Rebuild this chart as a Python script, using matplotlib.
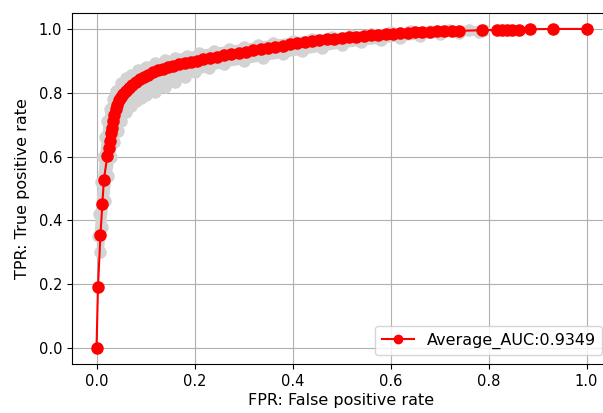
import matplotlib
matplotlib.use('Agg')
import matplotlib.pyplot as plt

# mean ROC curve (red dots)
mean_fpr = [0.0, 0.003, 0.008, 0.012, 0.015, 0.022, 0.025, 0.027, 0.029, 0.031,
            0.033, 0.036, 0.039, 0.042, 0.046, 0.05, 0.055, 0.06, 0.066, 0.072,
            0.08, 0.088, 0.096, 0.105, 0.115, 0.125, 0.135, 0.145, 0.156, 0.168,
            0.18, 0.192, 0.205, 0.218, 0.232, 0.246, 0.26, 0.275, 0.29, 0.305,
            0.32, 0.335, 0.35, 0.365, 0.38, 0.395, 0.41, 0.425, 0.44, 0.455,
            0.47, 0.485, 0.5, 0.515, 0.53, 0.545, 0.56, 0.575, 0.59, 0.605,
            0.62, 0.635, 0.65, 0.665, 0.68, 0.695, 0.71, 0.725, 0.74, 0.787,
            0.818, 0.828, 0.838, 0.848, 0.862, 0.884, 0.931, 1.0]
mean_tpr = [0.0, 0.19, 0.355, 0.452, 0.527, 0.601, 0.628, 0.648, 0.675, 0.69,
            0.712, 0.73, 0.748, 0.762, 0.776, 0.787, 0.797, 0.807, 0.816, 0.825,
            0.834, 0.843, 0.85, 0.857, 0.864, 0.87, 0.875, 0.88, 0.885, 0.889,
            0.893, 0.897, 0.901, 0.905, 0.909, 0.913, 0.917, 0.921, 0.925, 0.929,
            0.933, 0.937, 0.94, 0.944, 0.948, 0.952, 0.955, 0.958, 0.961, 0.964,
            0.967, 0.969, 0.972, 0.974, 0.976, 0.978, 0.98, 0.982, 0.984, 0.985,
            0.987, 0.988, 0.989, 0.99, 0.991, 0.992, 0.992, 0.993, 0.994, 0.996,
            0.997, 0.997, 0.998, 0.998, 0.998, 0.999, 1.0, 1.0]

# spread of the folds (grey)
upper_fpr = [0.003, 0.006, 0.01, 0.014, 0.018, 0.022, 0.027, 0.033, 0.04, 0.05,
             0.06, 0.07, 0.085, 0.1, 0.12, 0.14, 0.16, 0.185, 0.21, 0.24,
             0.27, 0.3, 0.33, 0.36, 0.4, 0.44, 0.48, 0.52, 0.56, 0.6,
             0.64, 0.68, 0.72, 0.76, 0.79]
upper_tpr = [0.35, 0.42, 0.52, 0.6, 0.66, 0.71, 0.75, 0.78, 0.805, 0.83,
             0.845, 0.857, 0.87, 0.881, 0.893, 0.902, 0.909, 0.916, 0.923, 0.93,
             0.936, 0.942, 0.949, 0.955, 0.962, 0.969, 0.975, 0.98, 0.985, 0.989,
             0.992, 0.994, 0.996, 0.997, 0.998]
lower_fpr = [0.008, 0.012, 0.018, 0.024, 0.03, 0.036, 0.043, 0.05, 0.06, 0.07,
             0.08, 0.09, 0.1, 0.12, 0.14, 0.16, 0.18, 0.2, 0.23, 0.26,
             0.3, 0.34, 0.38, 0.42, 0.46, 0.5, 0.54, 0.58, 0.62, 0.66,
             0.7, 0.74, 0.78]
lower_tpr = [0.3, 0.38, 0.46, 0.54, 0.6, 0.645, 0.68, 0.71, 0.74, 0.76,
             0.775, 0.785, 0.792, 0.802, 0.817, 0.835, 0.85, 0.864, 0.878, 0.89,
             0.9, 0.91, 0.92, 0.93, 0.94, 0.95, 0.958, 0.965, 0.972, 0.978,
             0.983, 0.987, 0.99]

auc_label = 'Average_AUC:0.9349'

fig = plt.figure(figsize=(6.03, 4.13), dpi=100)
ax = fig.add_axes([0.1194, 0.1186, 0.894, 0.85])

grey = '#d3d3d3'
ax.fill(upper_fpr + lower_fpr[::-1], upper_tpr + lower_tpr[::-1],
        color=grey, lw=0, zorder=1)
ax.plot(upper_fpr, upper_tpr, color=grey, marker='o', ms=8, lw=5, zorder=1)
ax.plot(lower_fpr, lower_tpr, color=grey, marker='o', ms=8, lw=5, zorder=1)

ax.plot(mean_fpr, mean_tpr, color='red', marker='o', ms=8, lw=1.5,
        label=auc_label, zorder=3)

ax.set_xlim(-0.05, 1.05)
ax.set_ylim(-0.05, 1.05)
ax.set_xticks([0.0, 0.2, 0.4, 0.6, 0.8, 1.0])
ax.set_yticks([0.0, 0.2, 0.4, 0.6, 0.8, 1.0])
ax.tick_params(labelsize=10.5)
ax.grid(True)
ax.set_axisbelow(True)
ax.set_xlabel('FPR: False positive rate', fontsize=11.5, labelpad=3)
ax.set_ylabel('TPR: True positive rate', fontsize=11.5, labelpad=6)
ax.legend(loc='lower right', bbox_to_anchor=(0.983, 0.026), borderaxespad=0,
          fontsize=11.5, markerscale=0.75)

fig.savefig('out.png', dpi=100)
